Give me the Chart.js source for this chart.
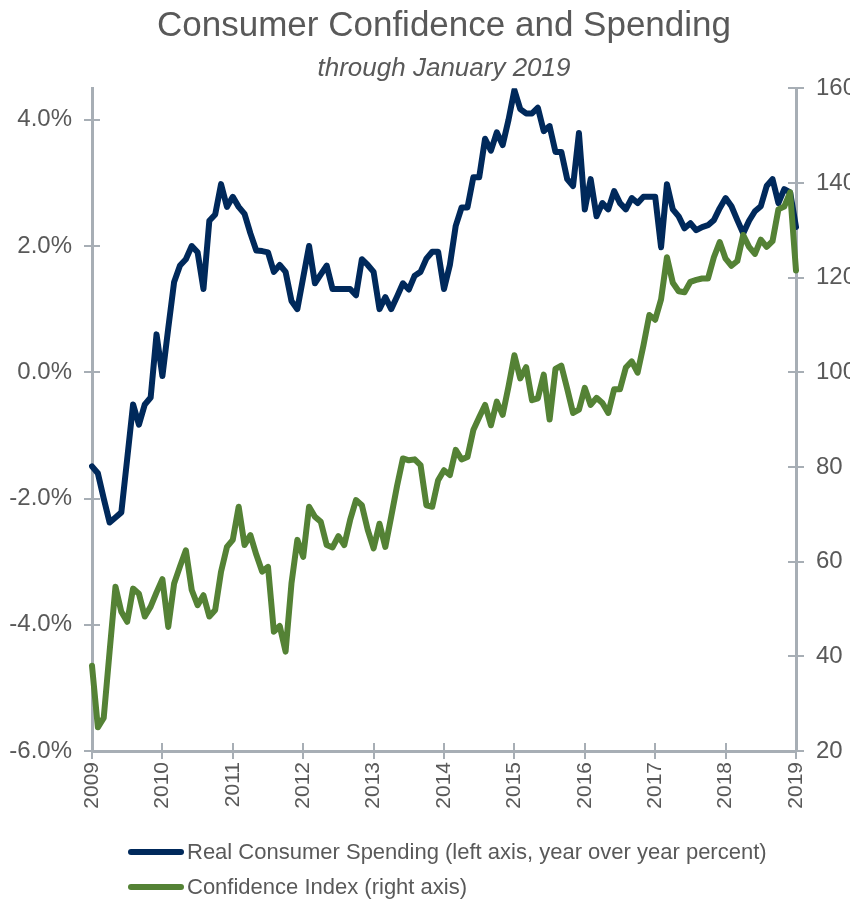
<!DOCTYPE html>
<html>
<head>
<meta charset="utf-8">
<title>Consumer Confidence and Spending</title>
<script src="https://cdn.jsdelivr.net/npm/chart.js@4.4.1/dist/chart.umd.min.js"></script>
<style>
  body { margin: 0; background: #fff; }
  #wrap { position: relative; width: 850px; height: 900px; }
  #legend {
    position: absolute; left: 128px; top: 834px;
    font: 22px 'Liberation Sans', Arial, sans-serif; color: #595959;
  }
  .item { display: flex; align-items: center; height: 35px; white-space: nowrap; }
  .swatch { width: 56px; height: 6px; border-radius: 3px; margin-right: 3px; }
</style>
</head>
<body>
<div id="wrap">
  <canvas id="chart"></canvas>
  <div id="legend"></div>
</div>
<script>
// Monthly observations, Jan 2009 .. Jan 2019
const months = [];
for (let y = 2009; y <= 2019; y++) {
  for (let m = 1; m <= 12; m++) {
    if (y === 2019 && m > 1) break;
    months.push(y + '-' + String(m).padStart(2, '0'));
  }
}

// Real consumer spending, year over year % (left axis)
const spending = [
  -1.49, -1.6, -2.0, -2.38, -2.3, -2.22, -1.37, -0.51, -0.83, -0.51, -0.40, 0.60,
  -0.06, 0.7, 1.43, 1.69, 1.79, 2.0, 1.9, 1.32, 2.40, 2.5, 2.98, 2.62,
  2.78, 2.62, 2.51, 2.2, 1.93, 1.92, 1.90, 1.59, 1.70, 1.59, 1.13, 1.0,
  1.5, 2.0, 1.41, 1.55, 1.69, 1.32, 1.32, 1.32, 1.32, 1.22, 1.79, 1.7,
  1.59, 1.0, 1.19, 1.0, 1.2, 1.41, 1.31, 1.53, 1.59, 1.80, 1.91, 1.91,
  1.32, 1.7, 2.32, 2.61, 2.61, 3.09, 3.09, 3.70, 3.51, 3.80, 3.60, 4.0,
  4.47, 4.17, 4.10, 4.1, 4.19, 3.82, 3.90, 3.49, 3.49, 3.06, 2.95, 3.79,
  2.58, 3.06, 2.47, 2.68, 2.58, 2.87, 2.68, 2.58, 2.76, 2.68, 2.78, 2.78,
  2.78, 1.98, 2.98, 2.58, 2.47, 2.28, 2.36, 2.25, 2.3, 2.33, 2.41, 2.6,
  2.76, 2.63, 2.41, 2.20, 2.4, 2.55, 2.63, 2.95, 3.06, 2.68, 2.9, 2.85,
  2.3
];

// Consumer confidence index (right axis)
const confidence = [
  38, 25, 27, 41, 54.7, 49.4, 47.3, 54.3, 53.2, 48.4, 50.5, 53.5,
  56.3, 46.2, 55.4, 59, 62.4, 54, 50.8, 52.9, 48.4, 49.8, 57.9, 63.1,
  64.6, 71.6, 63.5, 65.6, 61.5, 57.9, 58.9, 45.2, 46.4, 41, 55.4, 64.6,
  61, 71.6, 69.5, 68.4, 63.5, 63, 65.4, 63.5, 68.8, 73, 71.9, 66.7,
  62.8, 68, 63.1, 69.5, 76, 81.8, 81.4, 81.6, 80.4, 71.9, 71.6, 77.2,
  79.3, 78.3, 83.6, 81.6, 82.1, 87.8, 90.5, 93.1, 88.8, 93.8, 91, 97,
  103.6, 98.7, 101.1, 94.1, 94.5, 99.5, 90, 100.7, 101.4, 96.5, 91.4, 92.1,
  96.7, 93.1, 94.6, 93.5, 91.4, 96.4, 96.4, 101, 102.3, 99.9, 105.7, 112.1,
  111.1, 115.4, 124.3, 118.9, 117.1, 116.9, 119.1, 119.5, 119.8, 119.8, 124.3, 127.5,
  124, 122.5, 123.5, 129, 126.5, 125, 128, 126.5, 127.7, 134.4, 135, 138,
  121.5
];

const titleText = 'Consumer Confidence and Spending';
const subtitleText = 'through January 2019';
const spendingLabel = 'Real Consumer Spending (left axis, year over year percent)';
const confidenceLabel = 'Confidence Index (right axis)';

const navy = '#00295B';
const green = '#548235';
const axisColor = '#A7AEB5';
const textColor = '#595959';

Chart.defaults.font.family = "'Liberation Sans', Arial, sans-serif";
Chart.defaults.color = textColor;

// tick marks that cross the axis line: draw the half that sits inside the plot
const innerTicks = {
  id: 'innerTicks',
  beforeDatasetsDraw(chart) {
    const { ctx, chartArea, scales } = chart;
    const len = 8;
    ctx.save();
    ctx.strokeStyle = axisColor;
    ctx.lineWidth = 2;
    ctx.beginPath();
    scales.y.ticks.forEach((t, i) => {
      const py = Math.round(scales.y.getPixelForTick(i));
      ctx.moveTo(chartArea.left, py);
      ctx.lineTo(chartArea.left + len, py);
    });
    scales.y1.ticks.forEach((t, i) => {
      const py = Math.round(scales.y1.getPixelForTick(i));
      ctx.moveTo(chartArea.right - len, py);
      ctx.lineTo(chartArea.right, py);
    });
    scales.x.ticks.forEach((t, i) => {
      if (i % 12 !== 0) return;
      const px = Math.round(scales.x.getPixelForTick(i));
      ctx.moveTo(px, chartArea.bottom);
      ctx.lineTo(px, chartArea.bottom - len);
    });
    ctx.stroke();
    ctx.restore();
  }
};

const chart = new Chart(document.getElementById('chart'), {
  type: 'line',
  data: {
    labels: months,
    datasets: [
      {
        label: spendingLabel,
        data: spending,
        yAxisID: 'y',
        borderColor: navy,
        backgroundColor: navy,
        order: 1
      },
      {
        label: confidenceLabel,
        data: confidence,
        yAxisID: 'y1',
        borderColor: green,
        backgroundColor: green,
        order: 0
      }
    ]
  },
  options: {
    responsive: true,
    maintainAspectRatio: false,
    animation: false,
    layout: { padding: { left: 0, right: 0, top: 0, bottom: 79 } },
    elements: {
      point: { radius: 0 },
      line: { borderWidth: 6, tension: 0, borderJoinStyle: 'round', borderCapStyle: 'round' }
    },
    plugins: {
      legend: { display: false },
      tooltip: { enabled: false },
      title: {
        display: true,
        text: titleText,
        fullSize: false,
        color: textColor,
        font: { size: 35, weight: 'normal' },
        padding: { top: 5, bottom: 3 }
      },
      subtitle: {
        display: true,
        text: subtitleText,
        fullSize: false,
        color: textColor,
        font: { size: 26, style: 'italic' },
        padding: { top: 3, bottom: 4 }
      }
    },
    scales: {
      x: {
        type: 'category',
        offset: false,
        grid: {
          drawOnChartArea: false,
          tickLength: 8,
          lineWidth: 2,
          color: (c) => (c.index % 12 === 0 ? axisColor : 'rgba(0,0,0,0)')
        },
        border: { color: axisColor, width: 3 },
        ticks: {
          autoSkip: false,
          minRotation: 90,
          maxRotation: 90,
          padding: 3,
          font: { size: 21 },
          color: textColor,
          callback: function (v) {
            const l = this.getLabelForValue(v);
            return l.endsWith('-01') ? l.slice(0, 4) : '';
          }
        },
        afterFit(scale) { scale.height = 70; }
      },
      y: {
        position: 'left',
        min: -6,
        max: 4.5,
        ticks: {
          stepSize: 2,
          padding: 12,
          font: { size: 24 },
          color: textColor,
          callback: (v) => v.toFixed(1) + '%'
        },
        afterBuildTicks(scale) {
          scale.ticks = scale.ticks.filter((t) => t.value % 2 === 0);
        },
        grid: { drawOnChartArea: false, tickLength: 8, lineWidth: 2, color: axisColor },
        border: { color: axisColor, width: 3 },
        afterFit(scale) { scale.width = 92; }
      },
      y1: {
        position: 'right',
        min: 20,
        max: 160,
        ticks: {
          stepSize: 20,
          padding: 12,
          font: { size: 24 },
          color: textColor
        },
        grid: { drawOnChartArea: false, tickLength: 8, lineWidth: 2, color: axisColor },
        border: { color: axisColor, width: 3 },
        afterFit(scale) { scale.width = 54; }
      }
    }
  },
  plugins: [innerTicks]
});

// legend below the plot, one entry per row
const legend = document.getElementById('legend');
chart.data.datasets.forEach((ds) => {
  const row = document.createElement('div');
  row.className = 'item';
  const sw = document.createElement('span');
  sw.className = 'swatch';
  sw.style.background = ds.borderColor;
  const txt = document.createElement('span');
  txt.textContent = ds.label;
  row.appendChild(sw);
  row.appendChild(txt);
  legend.appendChild(row);
});
</script>
</body>
</html>
